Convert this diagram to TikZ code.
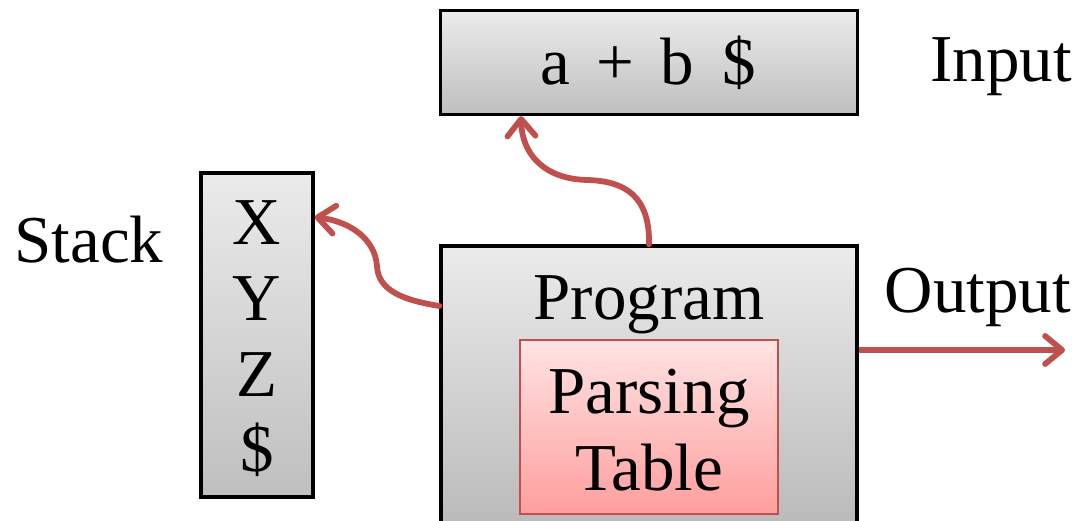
\documentclass[tikz,border=0pt]{standalone}
\usepackage{fontspec}
\setmainfont{Liberation Serif}
\usetikzlibrary{arrows.meta}
\definecolor{flow}{HTML}{C0504D}
\definecolor{boxtop}{HTML}{EBEBEB}
\definecolor{boxbot}{HTML}{BFBFBF}
\definecolor{progbot}{HTML}{B4B4B4}
\definecolor{tabtop}{HTML}{FFE3E3}
\definecolor{tabbot}{HTML}{FF9E9E}
\begin{document}
\begin{tikzpicture}[x=1pt,y=-1pt,
  box/.style={rectangle, inner sep=0pt, draw=black, line width=3.3pt},
  graybox/.style={box, top color=boxtop, bottom color=boxbot},
  tablebox/.style={rectangle, inner sep=0pt, draw=flow, line width=2.8pt,
    top color=tabtop, bottom color=tabbot},
  lbl/.style={anchor=base, inner sep=0pt, font=\fontsize{67}{72}\selectfont},
  flowarrow/.style={draw=flow, line width=5.8pt, line cap=round,
    -{Straight Barb[length=17pt, width=28pt, line cap=round, line join=round]}}]
\useasboundingbox (0,0) rectangle (1091,521);

% input tape
\node[graybox, minimum width=417pt, minimum height=104pt] (input) at (649,62.5) {};
\node[lbl] (tape) at (648,85) {a\hspace{27pt}+\hspace{26pt}b\hspace{28pt}\$};
\node[lbl] (inlabel) at (1001,82) {Input};

% stack
\node[graybox, minimum width=112pt, minimum height=324pt] (stack) at (257,335) {};
\node[lbl] (sx) at (257,244) {X};
\node[lbl] (sy) at (257,320) {Y};
\node[lbl] (sz) at (257,396) {Z};
\node[lbl] (sd) at (257,471) {\$};
\node[lbl] (stlabel) at (89,262) {Stack};

% driver program with its parsing table
\node[box, top color=boxtop, bottom color=progbot,
  minimum width=416pt, minimum height=314pt] (prog) at (649,403) {};
\node[lbl] (progtext) at (649,319) {Program};
\node[tablebox, minimum width=258pt, minimum height=174pt] (table) at (649,427) {};
\node[lbl] (tab1) at (649,413) {Parsing};
\node[lbl] (tab2) at (649,490) {Table};
\node[lbl] (outlabel) at (978,312) {Output};

% connector end points
\coordinate (progTop) at (prog.north);
\coordinate (inTip) at (input.south -| 521,0);
\coordinate (progLeft) at (prog.west |- 0,306);
\coordinate (stackTip) at (stack.east |- 0,217);
\coordinate (progRight) at (prog.east |- 0,350);
\coordinate (outEnd) at (1065,350);

% connectors
\draw[flowarrow] (progTop) .. controls (650,196) and (625,181) .. (587,180)
  .. controls (545,179) and (522,155) .. (inTip);
\draw[flowarrow] (progLeft) .. controls (402,300) and (378,290) .. (377,266)
  .. controls (375,240) and (352,222) .. (stackTip);
\draw[flowarrow, line cap=butt] (progRight) -- (outEnd);
\end{tikzpicture}
\end{document}
